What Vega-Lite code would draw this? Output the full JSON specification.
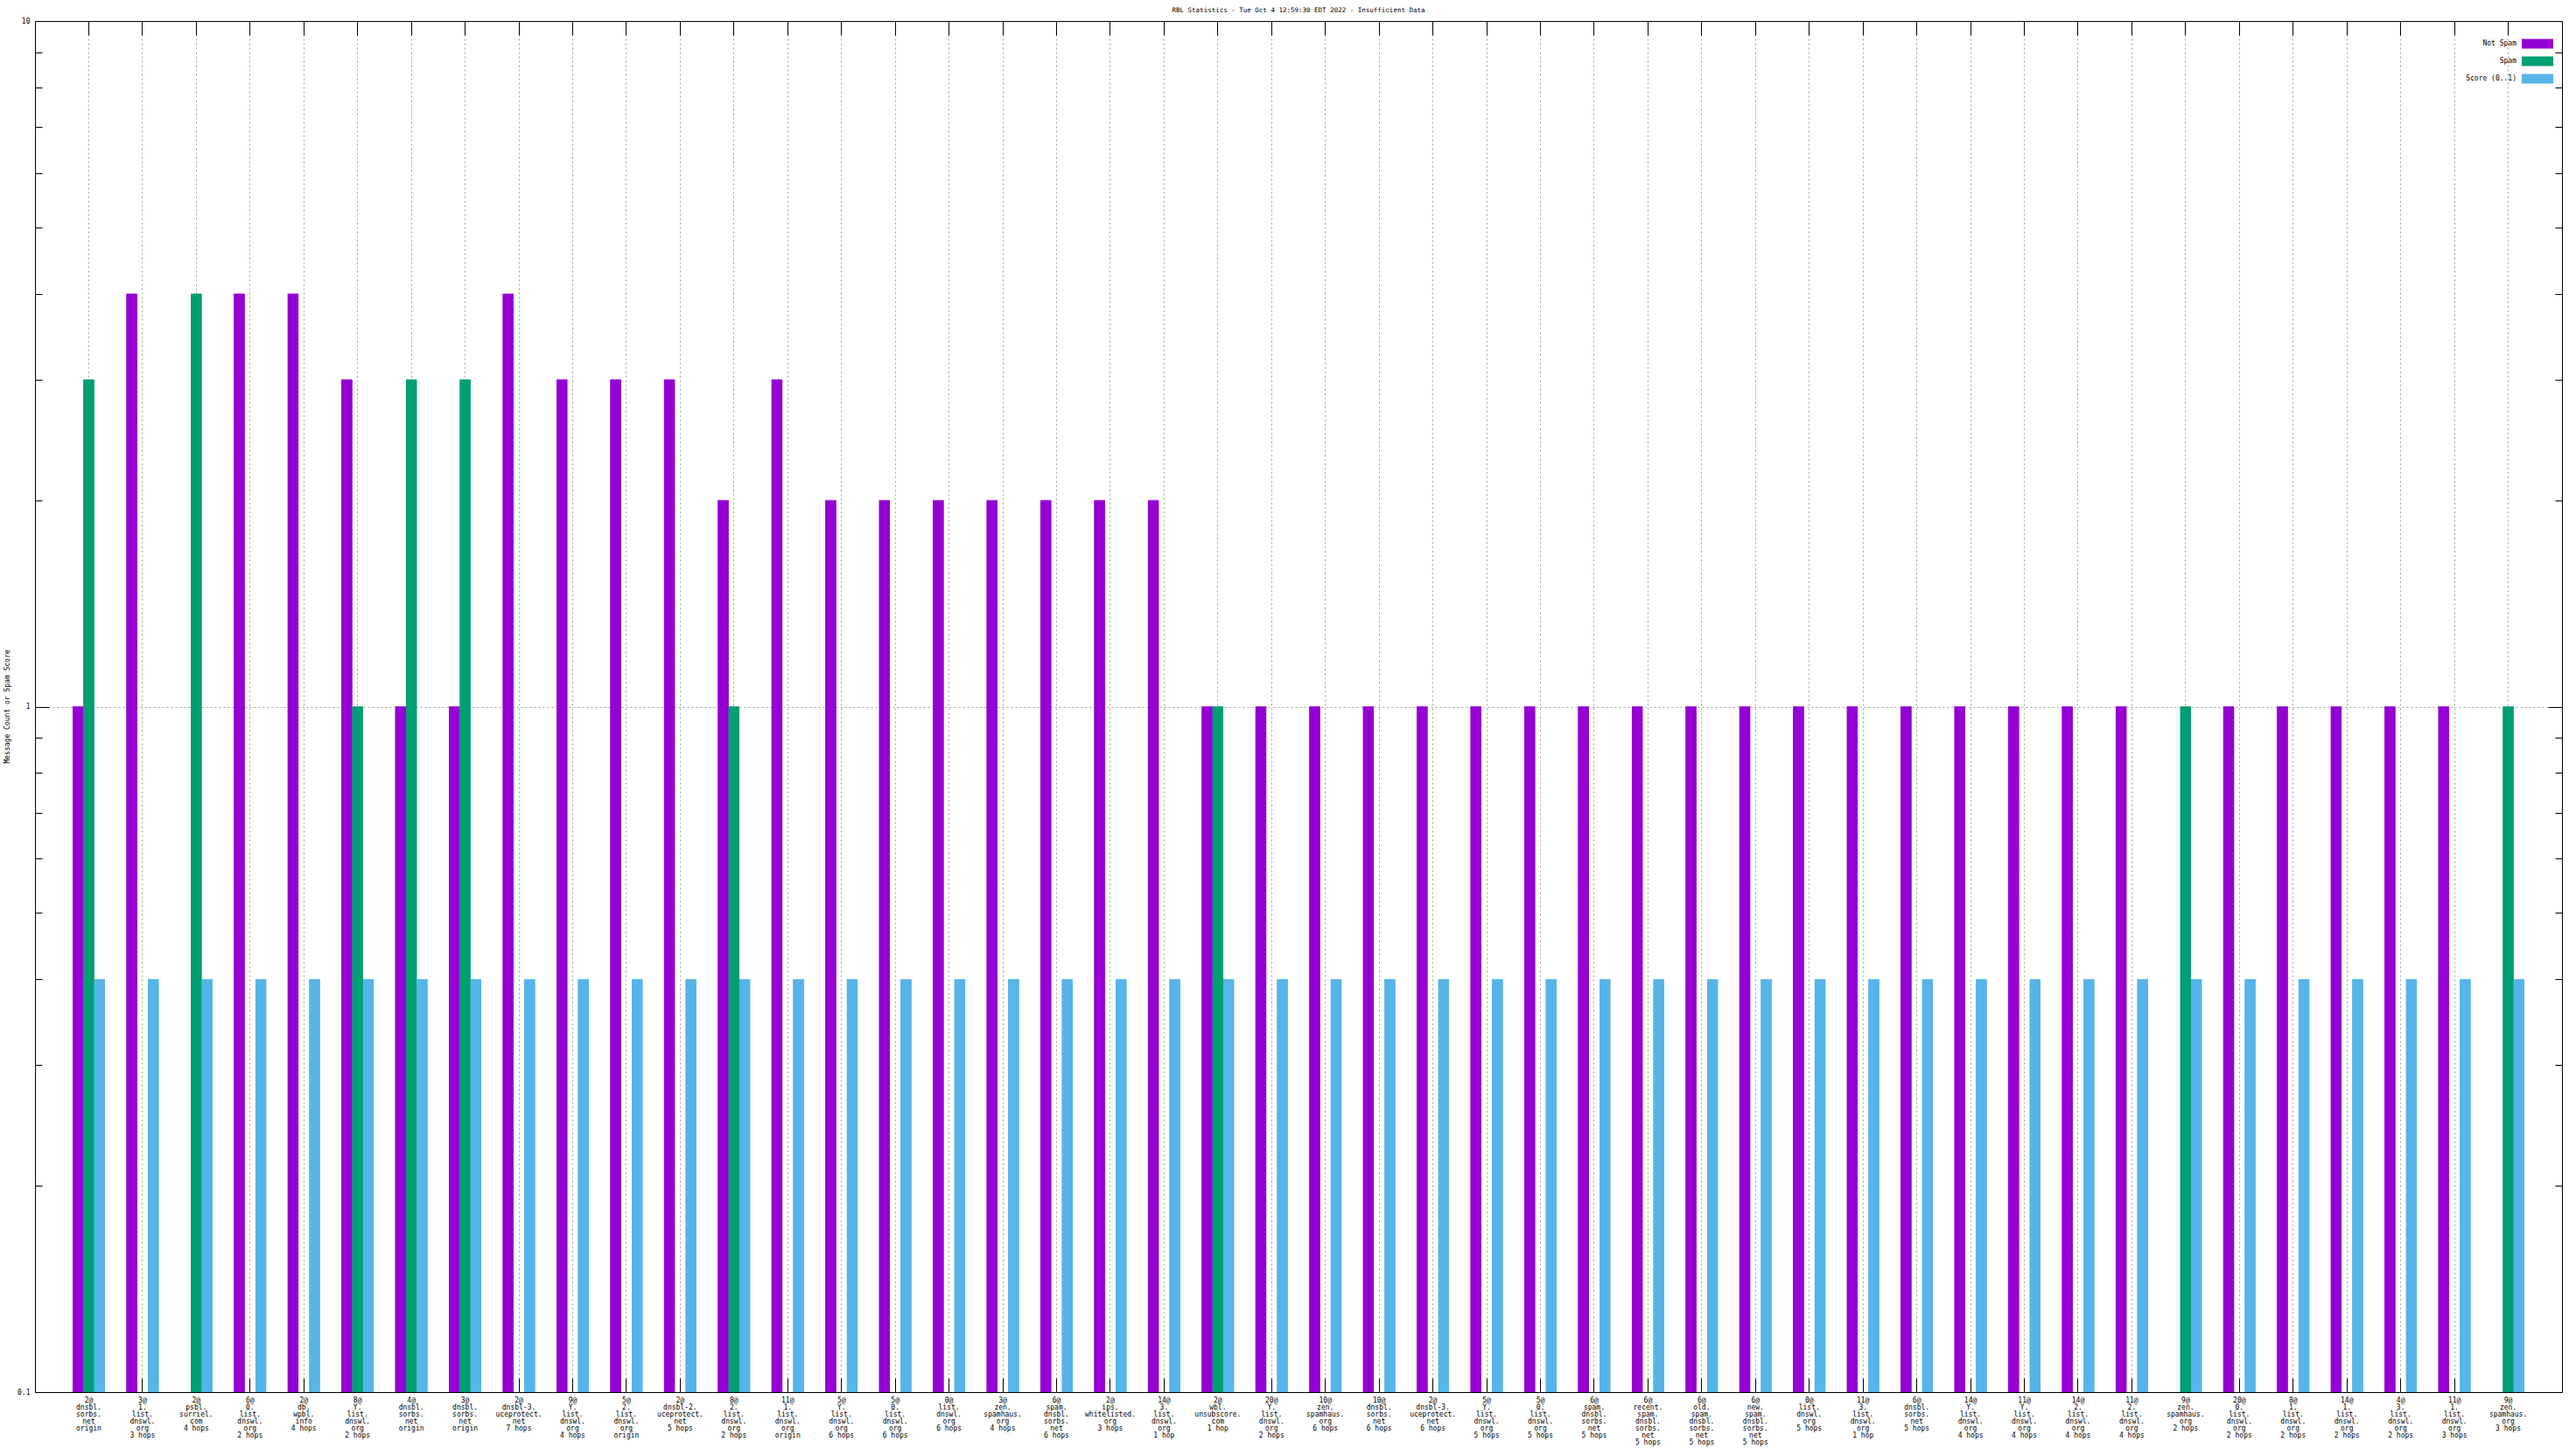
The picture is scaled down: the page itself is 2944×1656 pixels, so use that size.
{
  "$schema": "https://vega.github.io/schema/vega-lite/v6.json",
  "width": 2888,
  "height": 1567,
  "autosize": "none",
  "padding": {"left": 40, "top": 24, "right": 16, "bottom": 65},
  "background": "white",
  "title": {"text": "RBL Statistics - Tue Oct  4 12:59:30 EDT 2022 - Insufficient Data", "font": "DejaVu Sans Mono", "fontSize": 7.5, "fontWeight": "normal", "anchor": "middle", "offset": 5, "color": "black"},
  "data": {"values": [
    {"rbl": "2@|dnsbl.|sorbs.|net|origin", "ns": 1, "sp": 3, "sc": 0.4},
    {"rbl": "3@|1.|list.|dnswl.|org|3 hops", "ns": 4, "sp": 0, "sc": 0.4},
    {"rbl": "2@|psbl.|surriel.|com|4 hops", "ns": 0, "sp": 4, "sc": 0.4},
    {"rbl": "6@|0.|list.|dnswl.|org|2 hops", "ns": 4, "sp": 0, "sc": 0.4},
    {"rbl": "2@|db.|wpbl.|info|4 hops", "ns": 4, "sp": 0, "sc": 0.4},
    {"rbl": "8@|Y.|list.|dnswl.|org|2 hops", "ns": 3, "sp": 1, "sc": 0.4},
    {"rbl": "4@|dnsbl.|sorbs.|net|origin", "ns": 1, "sp": 3, "sc": 0.4},
    {"rbl": "3@|dnsbl.|sorbs.|net|origin", "ns": 1, "sp": 3, "sc": 0.4},
    {"rbl": "2@|dnsbl-3.|uceprotect.|net|7 hops", "ns": 4, "sp": 0, "sc": 0.4},
    {"rbl": "9@|Y.|list.|dnswl.|org|4 hops", "ns": 3, "sp": 0, "sc": 0.4},
    {"rbl": "5@|2.|list.|dnswl.|org|origin", "ns": 3, "sp": 0, "sc": 0.4},
    {"rbl": "2@|dnsbl-2.|uceprotect.|net|5 hops", "ns": 3, "sp": 0, "sc": 0.4},
    {"rbl": "8@|2.|list.|dnswl.|org|2 hops", "ns": 2, "sp": 1, "sc": 0.4},
    {"rbl": "11@|1.|list.|dnswl.|org|origin", "ns": 3, "sp": 0, "sc": 0.4},
    {"rbl": "5@|Y.|list.|dnswl.|org|6 hops", "ns": 2, "sp": 0, "sc": 0.4},
    {"rbl": "5@|0.|list.|dnswl.|org|6 hops", "ns": 2, "sp": 0, "sc": 0.4},
    {"rbl": "0@|list.|dnswl.|org|6 hops", "ns": 2, "sp": 0, "sc": 0.4},
    {"rbl": "3@|zen.|spamhaus.|org|4 hops", "ns": 2, "sp": 0, "sc": 0.4},
    {"rbl": "6@|spam.|dnsbl.|sorbs.|net|6 hops", "ns": 2, "sp": 0, "sc": 0.4},
    {"rbl": "2@|ips.|whitelisted.|org|3 hops", "ns": 2, "sp": 0, "sc": 0.4},
    {"rbl": "14@|3.|list.|dnswl.|org|1 hop", "ns": 2, "sp": 0, "sc": 0.4},
    {"rbl": "2@|wbl.|unsubscore.|com|1 hop", "ns": 1, "sp": 1, "sc": 0.4},
    {"rbl": "20@|Y.|list.|dnswl.|org|2 hops", "ns": 1, "sp": 0, "sc": 0.4},
    {"rbl": "10@|zen.|spamhaus.|org|6 hops", "ns": 1, "sp": 0, "sc": 0.4},
    {"rbl": "10@|dnsbl.|sorbs.|net|6 hops", "ns": 1, "sp": 0, "sc": 0.4},
    {"rbl": "2@|dnsbl-3.|uceprotect.|net|6 hops", "ns": 1, "sp": 0, "sc": 0.4},
    {"rbl": "5@|Y.|list.|dnswl.|org|5 hops", "ns": 1, "sp": 0, "sc": 0.4},
    {"rbl": "5@|0.|list.|dnswl.|org|5 hops", "ns": 1, "sp": 0, "sc": 0.4},
    {"rbl": "6@|spam.|dnsbl.|sorbs.|net|5 hops", "ns": 1, "sp": 0, "sc": 0.4},
    {"rbl": "6@|recent.|spam.|dnsbl.|sorbs.|net|5 hops", "ns": 1, "sp": 0, "sc": 0.4},
    {"rbl": "6@|old.|spam.|dnsbl.|sorbs.|net|5 hops", "ns": 1, "sp": 0, "sc": 0.4},
    {"rbl": "6@|new.|spam.|dnsbl.|sorbs.|net|5 hops", "ns": 1, "sp": 0, "sc": 0.4},
    {"rbl": "0@|list.|dnswl.|org|5 hops", "ns": 1, "sp": 0, "sc": 0.4},
    {"rbl": "11@|3.|list.|dnswl.|org|1 hop", "ns": 1, "sp": 0, "sc": 0.4},
    {"rbl": "6@|dnsbl.|sorbs.|net|5 hops", "ns": 1, "sp": 0, "sc": 0.4},
    {"rbl": "14@|Y.|list.|dnswl.|org|4 hops", "ns": 1, "sp": 0, "sc": 0.4},
    {"rbl": "11@|Y.|list.|dnswl.|org|4 hops", "ns": 1, "sp": 0, "sc": 0.4},
    {"rbl": "14@|2.|list.|dnswl.|org|4 hops", "ns": 1, "sp": 0, "sc": 0.4},
    {"rbl": "11@|2.|list.|dnswl.|org|4 hops", "ns": 1, "sp": 0, "sc": 0.4},
    {"rbl": "9@|zen.|spamhaus.|org|2 hops", "ns": 0, "sp": 1, "sc": 0.4},
    {"rbl": "20@|0.|list.|dnswl.|org|2 hops", "ns": 1, "sp": 0, "sc": 0.4},
    {"rbl": "8@|1.|list.|dnswl.|org|2 hops", "ns": 1, "sp": 0, "sc": 0.4},
    {"rbl": "14@|1.|list.|dnswl.|org|2 hops", "ns": 1, "sp": 0, "sc": 0.4},
    {"rbl": "4@|3.|list.|dnswl.|org|2 hops", "ns": 1, "sp": 0, "sc": 0.4},
    {"rbl": "11@|1.|list.|dnswl.|org|3 hops", "ns": 1, "sp": 0, "sc": 0.4},
    {"rbl": "9@|zen.|spamhaus.|org|3 hops", "ns": 0, "sp": 1, "sc": 0.4}
  ]},
  "transform": [
    {"fold": ["ns", "sp", "sc"], "as": ["series", "value"]},
    {"filter": "datum.value > 0"}
  ],
  "layer": [
    {
      "mark": {"type": "bar"},
      "encoding": {
        "x": {"field": "rbl", "type": "nominal", "sort": null,
          "scale": {"paddingInner": 0.4, "paddingOuter": 0.7},
          "axis": {"orient": "bottom", "title": null, "labelAngle": 0, "labelExpr": "split(datum.label, '|')",
            "labelFont": "DejaVu Sans Mono", "labelFontSize": 8, "labelLineHeight": 8, "labelBaseline": "top",
            "labelPadding": 21, "tickSize": -16, "tickColor": "black", "domain": false, "grid": true,
            "gridColor": "#a0a0a0", "gridDash": [2, 3], "bandPosition": 0.5, "labelColor": "black",
            "labelOverlap": false, "labelBound": false}},
        "xOffset": {"field": "series", "type": "nominal", "scale": {"domain": ["ns", "sp", "sc"]}},
        "y": {"field": "value", "type": "quantitative", "stack": null,
          "scale": {"type": "log", "domain": [0.1, 10], "nice": false},
          "axis": {"orient": "left", "title": "Message Count or Spam Score",
            "values": [0.1, 0.2, 0.3, 0.4, 0.5, 0.6, 0.7, 0.8, 0.9, 1, 2, 3, 4, 5, 6, 7, 8, 9, 10],
            "labelExpr": "datum.value == 0.1 ? '0.1' : datum.value == 1 ? '1' : datum.value == 10 ? '10' : ''",
            "labelFont": "DejaVu Sans Mono", "labelFontSize": 8, "labelColor": "black", "labelPadding": 22,
            "tickSize": {"condition": {"test": "datum.value == 0.1 || datum.value == 1 || datum.value == 10", "value": -16}, "value": -8},
            "tickColor": "black", "domain": false, "grid": true, "gridColor": "#a0a0a0", "gridDash": [2, 3],
            "gridOpacity": {"condition": {"test": "datum.value == 1", "value": 1}, "value": 0},
            "titleFont": "DejaVu Sans Mono", "titleFontSize": 8, "titleFontWeight": "normal", "titleColor": "black",
            "titleX": -32, "titleY": 783, "titleAngle": -90, "titleBaseline": "middle", "titleAlign": "center",
            "labelOverlap": false, "labelBound": false, "labelFlush": false}},
        "y2": {"datum": 0.1},
        "color": {"field": "series", "type": "nominal",
          "scale": {"domain": ["ns", "sp", "sc"], "range": ["#9400D3", "#009E73", "#56B4E9"]},
          "legend": {"orient": "none", "legendX": 2854, "legendY": 20, "title": null, "padding": 0,
            "symbolType": "M-3,-0.9H3V0.9H-3Z", "symbolSize": 144, "symbolStrokeWidth": 0, "symbolOpacity": 1,
            "labelOffset": -30, "labelAlign": "right", "labelFont": "DejaVu Sans Mono", "labelFontSize": 8,
            "labelColor": "black", "rowPadding": 8,
            "labelExpr": "datum.label == 'ns' ? 'Not Spam' : datum.label == 'sp' ? 'Spam' : 'Score (0..1)'"}}
      }
    },
    {
      "mark": {"type": "bar"},
      "encoding": {
        "x": {"field": "rbl", "type": "nominal", "sort": null,
          "axis": {"orient": "top", "title": null, "labels": false, "tickSize": -16, "tickColor": "black",
            "domain": false, "grid": false, "bandPosition": 0.5}},
        "xOffset": {"field": "series", "type": "nominal"},
        "y": {"field": "value", "type": "quantitative", "stack": null,
          "axis": {"orient": "right", "title": null, "labels": false,
            "values": [0.1, 0.2, 0.3, 0.4, 0.5, 0.6, 0.7, 0.8, 0.9, 1, 2, 3, 4, 5, 6, 7, 8, 9, 10],
            "tickSize": {"condition": {"test": "datum.value == 0.1 || datum.value == 1 || datum.value == 10", "value": -16}, "value": -8},
            "tickColor": "black", "domain": false, "grid": false}},
        "y2": {"datum": 0.1},
        "color": {"field": "series", "type": "nominal", "legend": null}
      }
    }
  ],
  "resolve": {"axis": {"x": "independent", "y": "independent"}},
  "config": {
    "view": {"stroke": "black", "strokeWidth": 1},
    "font": "DejaVu Sans Mono"
  }
}
